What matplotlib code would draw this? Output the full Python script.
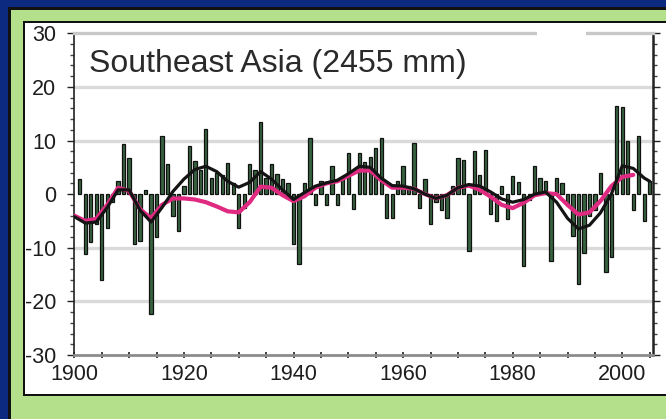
import numpy as np
import matplotlib
matplotlib.use("Agg")
import matplotlib.pyplot as plt
from matplotlib.patches import Rectangle
from matplotlib.ticker import MultipleLocator

plt.rcParams['font.family'] = ['Liberation Sans', 'DejaVu Sans']
plt.rcParams['axes.unicode_minus'] = False

# annual rainfall anomaly (%), 1901-2005
bar_years = np.arange(1901, 2006)
anomaly = [
    2.8, -11.2, -9.0, -5.5, -16.1, -6.3, -1.5, 2.5, 9.3, 6.8,
    -9.3, -8.7, 0.8, -22.3, -8.0, 10.9, 5.6, -4.0, -6.8, 1.5,
    9.0, 6.2, 4.5, 12.1, 3.0, 4.0, 3.5, 5.9, 2.0, -6.4,
    -2.5, 5.6, 4.5, 13.5, 3.0, 5.6, 3.7, 2.8, 2.0, -9.3,
    -13.0, 2.0, 10.4, -2.0, 2.5, -2.0, 5.3, -2.0, 3.0, 7.6,
    -2.8, 7.6, 6.0, 7.0, 8.7, 10.4, -4.5, -4.5, 2.5, 5.2,
    1.5, 9.5, -2.5, 2.8, -5.6, -1.5, -3.0, -4.4, 1.5, 6.8,
    6.3, -10.6, 8.0, 3.5, 8.2, -3.7, -5.0, 1.5, -4.6, 3.4,
    2.2, -13.4, -1.0, 5.3, 3.0, 2.5, -12.4, 3.0, 2.0, -2.0,
    -7.8, -16.8, -11.0, -4.0, -3.0, 4.0, -14.6, -11.8, 16.4, 16.2,
    9.9, -3.0, 10.8, -5.0, 2.5,
]

# decadal smoothed series
black_years = list(range(1900, 2006, 2)) + [2005]
black_smooth = [
    -4.2, -5.4, -5.2, -2.5, 0.8, 0.8, -3.0, -5.2, -2.5, 0.5,
    2.8, 4.6, 5.2, 4.2, 2.4, 1.3, 2.2, 4.2, 2.8, 0.8,
    -1.0, 0.3, 1.5, 2.1, 2.6, 3.8, 5.2, 5.0, 3.0, 1.6,
    1.5, 1.0, 0.0, -0.8, -0.2, 1.2, 1.8, 1.5, 0.4, -0.9,
    -1.5, -1.0, 0.0, 0.4, -1.5, -4.5, -6.5, -5.8, -3.5, 0.0,
    5.3, 4.8, 3.0, 2.4,
]
pink_years = list(range(1900, 2004, 2))
pink_smooth = [
    -4.0, -5.0, -4.6, -2.0, 1.2, 0.6, -2.8, -4.5, -2.0, -0.8,
    -0.8, -1.0, -1.5, -2.3, -3.2, -3.4, -1.5, 1.4, 1.2, -0.2,
    -1.3, -0.4, 1.2, 2.0, 2.4, 3.4, 4.4, 4.4, 2.6, 1.2,
    1.2, 1.0, 0.0, -0.8, -0.2, 1.2, 1.6, 0.8, -0.5, -2.0,
    -2.6, -1.6, -0.2, 0.2, 0.0, -2.0, -3.8, -3.4, -1.3, 1.5,
    3.2, 3.6,
]

W, H = 666, 419
fig = plt.figure(figsize=(W / 100, H / 100), dpi=100)
fig.patch.set_facecolor('#0c2a80')


def px_rect(x0, y0, x1, y1, color):
    # rectangle given in pixels from the top-left corner
    fig.add_artist(Rectangle((x0 / W, 1 - y1 / H), (x1 - x0) / W, (y1 - y0) / H,
                             transform=fig.transFigure, facecolor=color,
                             edgecolor='none', zorder=0))


px_rect(8, 7, 700, 450, '#111111')
px_rect(11, 10, 700, 450, '#b4e08c')
px_rect(23, 21, 700, 396, '#111111')
px_rect(25, 23, 700, 394, 'white')

ax = fig.add_axes([74.3 / W, 1 - 355 / H, (653 - 74.3) / W, (355 - 33.3) / H])
ax.set_facecolor('white')

ax.bar(bar_years, anomaly, width=0.6, color='#36633f', edgecolor='#111111',
       linewidth=0.9, zorder=3)
ax.plot(pink_years, pink_smooth, color='#e02a82', lw=3.0, zorder=4,
        solid_capstyle='round', solid_joinstyle='round')
ax.plot(black_years, black_smooth, color='#141414', lw=2.3, zorder=5,
        solid_capstyle='round', solid_joinstyle='round')

ax.set_xlim(1900, 2005.6)
ax.set_ylim(-30, 30)

for g in [-20, -10, 10, 20]:
    ax.axhline(g, color='#dadada', lw=2.4, zorder=1)

ax.xaxis.set_major_locator(MultipleLocator(20))
ax.xaxis.set_minor_locator(MultipleLocator(5))
ax.yaxis.set_major_locator(MultipleLocator(10))
ax.yaxis.set_minor_locator(MultipleLocator(2))

ax.tick_params(axis='x', which='both', direction='inout', length=5, width=1.2,
               color='#222222', labelsize=15.5, pad=4, labelcolor='#1e1e1e')
ax.tick_params(axis='y', which='major', direction='out', length=5, width=1.0,
               color='#222222', labelsize=15.5, pad=8, labelcolor='#1e1e1e',
               right=True)
ax.tick_params(axis='y', which='minor', direction='out', length=3, width=1.0,
               color='#444444', right=True)
ax.tick_params(axis='y', which='both', labelright=False)

ax.spines['left'].set_color('#222222')
ax.spines['left'].set_linewidth(1.2)
ax.spines['right'].set_color('#222222')
ax.spines['right'].set_linewidth(1.8)
ax.spines['top'].set_color('#c8c8c8')
ax.spines['top'].set_linewidth(2.4)
ax.spines['bottom'].set_color('#8c8c8c')
ax.spines['bottom'].set_linewidth(2.0)

ax.text(0.025, 0.95, 'Southeast Asia (2455 mm)', transform=ax.transAxes,
        fontsize=23, color='#2a2a2a', ha='left', va='top', zorder=6)

# blank patch near the top right of the plot area
ax.add_patch(Rectangle((0.80, 0.84), 0.085, 0.17, transform=ax.transAxes,
                       facecolor='white', edgecolor='none', zorder=6,
                       clip_on=False))

fig.savefig('out.png', dpi=100, facecolor=fig.get_facecolor())
